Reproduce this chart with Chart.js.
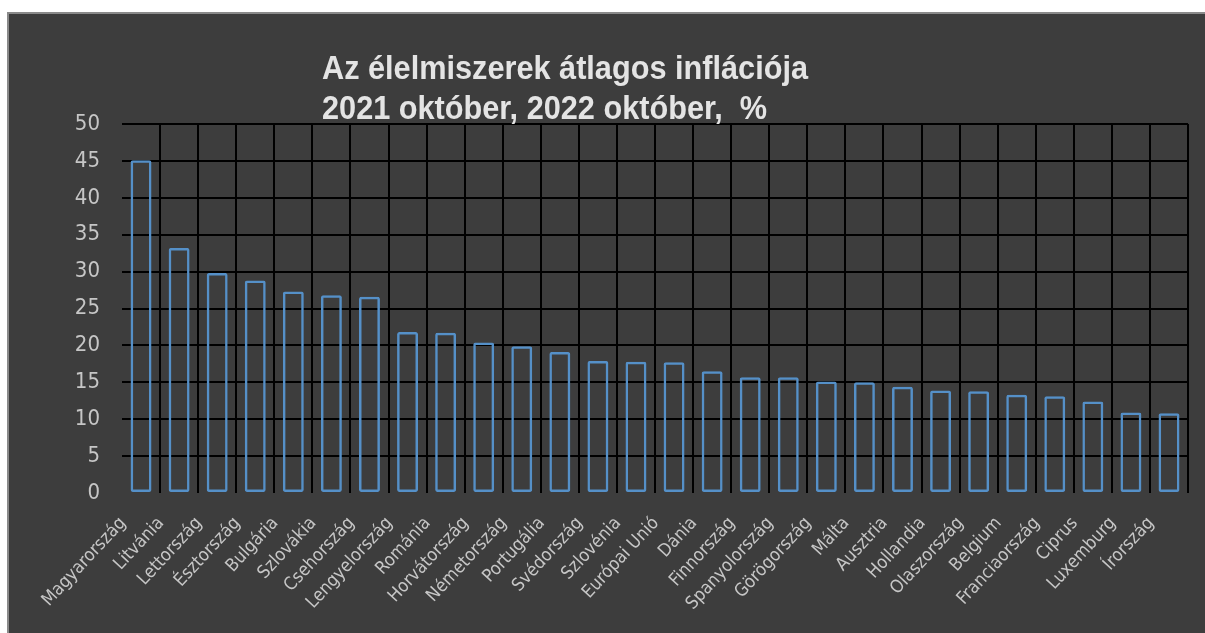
<!DOCTYPE html>
<html>
<head>
<meta charset="utf-8">
<script src="https://cdn.jsdelivr.net/npm/chart.js@4.4.1/dist/chart.umd.min.js"></script>
<style>
  html, body { margin: 0; padding: 0; background: #fff; overflow: hidden; }
  #panel {
    position: absolute; left: 7px; top: 12px; width: 1210px; height: 630px;
    background: #3d3d3d; border-left: 2px solid #8a8a8a; border-top: 2px solid #8a8a8a;
    box-sizing: border-box;
  }
  #wrap { position: absolute; left: 0; top: 0; width: 1196px; height: 619px; }
</style>
</head>
<body>
<div id="panel"><div id="wrap"><canvas id="inflChart"></canvas></div></div>
<script>
const countries = [
  'Magyarország', 'Litvánia', 'Lettország', 'Észtország', 'Bulgária', 'Szlovákia', 'Csehország',
  'Lengyelország', 'Románia', 'Horvátország', 'Németország', 'Portugália', 'Svédország', 'Szlovénia',
  'Európai Unió', 'Dánia', 'Finnország', 'Spanyolország', 'Görögország', 'Málta', 'Ausztria',
  'Hollandia', 'Olaszország', 'Belgium', 'Franciaország', 'Ciprus', 'Luxemburg', 'Írország'
];
const inflation = [
  45.1, 33.2, 29.8, 28.8, 27.3, 26.8, 26.6,
  21.8, 21.7, 20.4, 19.9, 19.1, 17.9, 17.8,
  17.7, 16.5, 15.7, 15.7, 15.1, 15.0, 14.4,
  13.9, 13.8, 13.3, 13.1, 12.4, 10.9, 10.8
];
const titleLines = ['Az élelmiszerek átlagos inflációja', '2021 október, 2022 október,  %'];

const narrow = "'DejaVu Sans Condensed', 'Liberation Sans', sans-serif";

// title is squeezed horizontally to look like a narrow bold face
const titlePlugin = {
  id: 'titleText',
  afterDraw(chart) {
    const ctx = chart.ctx;
    ctx.save();
    ctx.fillStyle = '#e4e4e4';
    ctx.font = "bold 33px 'Liberation Sans', Arial, sans-serif";
    ctx.textAlign = 'left';
    ctx.textBaseline = 'alphabetic';
    const sx = 486 / ctx.measureText(titleLines[0]).width;
    ctx.translate(313, 0);
    ctx.scale(sx, 1);
    ctx.fillText(titleLines[0], 0, 65);
    ctx.fillText(titleLines[1], 0, 105);
    ctx.restore();
  }
};

new Chart(document.getElementById('inflChart'), {
  type: 'bar',
  data: {
    labels: countries,
    datasets: [{
      data: inflation,
      backgroundColor: 'transparent',
      borderColor: '#5590c8',
      borderWidth: 2.5,
      borderRadius: 2,
      borderSkipped: false,
      barPercentage: 0.55,
      categoryPercentage: 1
    }]
  },
  options: {
    responsive: true,
    maintainAspectRatio: false,
    animation: false,
    layout: { padding: { top: 110, right: 11, left: 0, bottom: 0 } },
    plugins: { legend: { display: false }, title: { display: false }, tooltip: { enabled: false } },
    scales: {
      x: {
        grid: {
          offset: true,
          drawTicks: false,
          lineWidth: 2,
          color: c => (c.index === 0 || c.index === countries.length) ? 'transparent' : '#000'
        },
        border: { display: false },
        ticks: {
          color: '#c6c6c6',
          font: { family: narrow, size: 18 },
          minRotation: 47,
          maxRotation: 47,
          padding: 20,
          labelOffset: -18,
          autoSkip: false
        },
        afterFit: s => { s.height = 140; }
      },
      y: {
        min: 0,
        max: 50,
        grid: {
          drawTicks: false,
          lineWidth: 2,
          color: c => (c.tick && c.tick.value === 0) ? 'transparent' : '#000'
        },
        border: { display: false },
        ticks: {
          stepSize: 5,
          color: '#c6c6c6',
          font: { family: narrow, size: 22 },
          padding: 22
        },
        afterFit: s => { s.width = 113; }
      }
    }
  },
  plugins: [titlePlugin]
});
</script>
</body>
</html>
